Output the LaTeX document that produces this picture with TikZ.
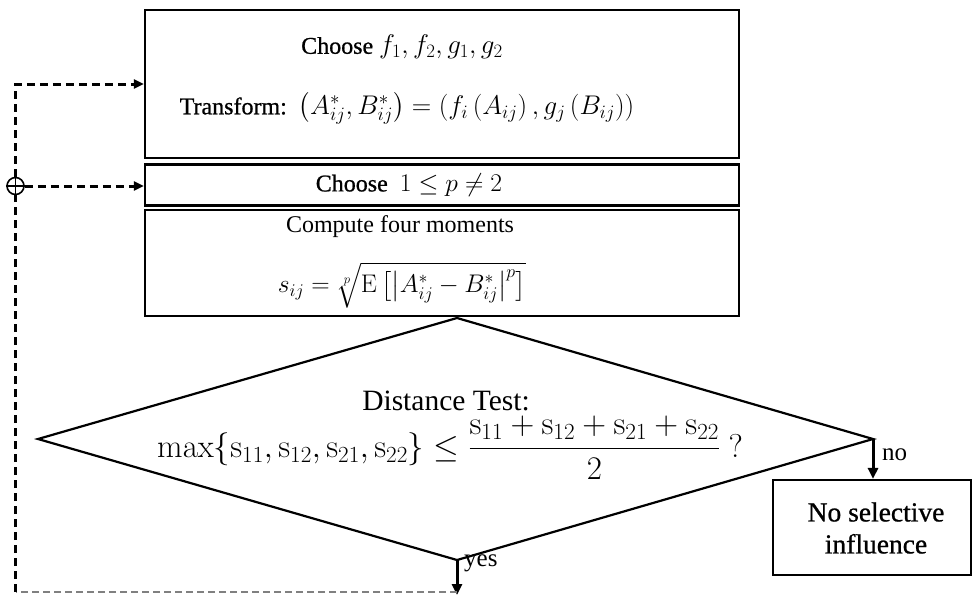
\RequirePackage{fix-cm}
\documentclass[tikz,border=0pt]{standalone}
\usepackage{amsmath}
\usepackage[no-math]{fontspec}
\setmainfont{Liberation Serif}
\newfontfamily\heavyfont[FakeBold=0.8]{Liberation Serif}
\usetikzlibrary{arrows.meta}
\newcommand{\mbig}[1]{{\fontsize{27}{32}\selectfont$#1$}}
\newcommand{\mmid}[1]{{\fontsize{25.5}{30}\selectfont$#1$}}
\begin{document}
\begin{tikzpicture}[x=1pt,y=-1pt,
  stepbox/.style={draw, line width=2.2pt, inner sep=0pt, minimum width=594pt},
  txt/.style={inner sep=0pt, font=\fontsize{24}{28}\selectfont},
  bigtxt/.style={inner sep=0pt, font=\fontsize{27.5}{32}\selectfont},
  dtxt/.style={inner sep=0pt, font=\fontsize{29.5}{34}\selectfont},
  ftxt/.style={inner sep=0pt, font=\fontsize{33}{38}\selectfont},
  lbl/.style={inner sep=0pt, anchor=west, font=\fontsize{25}{30}\selectfont},
  tip/.style={-{Triangle[length=10pt,width=9pt]}},
  solidarr/.style={line width=3pt, -{Triangle[length=11pt,width=10pt]}},
  dashthick/.style={line width=3pt, dash pattern=on 8pt off 5pt},
  dashgray/.style={line width=1.4pt, gray, dash pattern=on 7pt off 4pt},
  junction/.style={circle, draw, line width=1.6pt, minimum size=17pt, inner sep=0pt, fill=white}
]
\useasboundingbox (0,0) rectangle (973,598);

% boxes
\node[stepbox, minimum height=148pt] (box1) at (442,84) {};
\node[stepbox, minimum height=41pt] (box2) at (442,185) {};
\node[stepbox, minimum height=106pt] (box3) at (442,263) {};

\node[txt] (t1a) at (402,47) {{\heavyfont Choose} \mbig{f_1, f_2, g_1, g_2}};
\node[txt] (t1b) at (407,108) {{\heavyfont Transform:}\ \ \mbig{\bigl(A^*_{ij}, B^*_{ij}\bigr) = \left(f_i\left(A_{ij}\right), g_j\left(B_{ij}\right)\right)}};
\node[txt] (t2) at (409,185) {{\heavyfont Choose}\ \ \mmid{1 \le p \ne 2}};
\node[txt] (t3a) at (400,227) {Compute four moments};
\node[txt] (t3b) at (402,285) {\mmid{s_{ij} = \sqrt[p]{\mathrm{E}\,\bigl[\bigl|A^*_{ij} - B^*_{ij}\bigr|^p\bigr]}}};

% diamond
\coordinate (dt) at (457,318);
\coordinate (dr) at (873,439);
\coordinate (db) at (457,560);
\coordinate (dl) at (38,439);
\draw[line width=2.2pt, line join=miter] (dt) -- (dr) -- (db) -- (dl) -- cycle;
\node[dtxt] (dtest) at (446,401) {Distance Test:};
\node[ftxt] (dform) at (450,448) {$\max\{\mathrm{s}_{11},\mathrm{s}_{12},\mathrm{s}_{21},\mathrm{s}_{22}\} \le \dfrac{\mathrm{s}_{11}+\mathrm{s}_{12}+\mathrm{s}_{21}+\mathrm{s}_{22}}{2}\ ?$};

% no selective influence
\node[stepbox, minimum width=198pt, minimum height=95pt] (nobox) at (872,527.5) {};
\node[bigtxt, align=center] (notxt) at (876,528) {{\heavyfont No selective}\\{\heavyfont influence}};

% decision arrows
\draw[solidarr] (dr) -- (dr |- nobox.north);
\node[lbl] (nolbl) at (882,455) {no};
\coordinate (yesend) at (457,595);
\draw[solidarr] (db) -- (yesend);
\node[lbl] (yeslbl) at (464,563) {yes};

% feedback loop
\node[junction] (junc) at (15.5,186) {};
\draw[line width=1.6pt] (junc.north) -- (junc.south) (junc.west) -- (junc.east);
\coordinate (cbl) at (15.5,592);
\draw[dashgray] (yesend |- cbl) -- (cbl);
\draw[dashthick] (cbl) -- (junc.south);
\draw[dashthick, tip] (junc.north) |- (box1.west);
\draw[dashthick, tip] (junc.east) -- (junc.east -| box2.west);
\end{tikzpicture}
\end{document}
